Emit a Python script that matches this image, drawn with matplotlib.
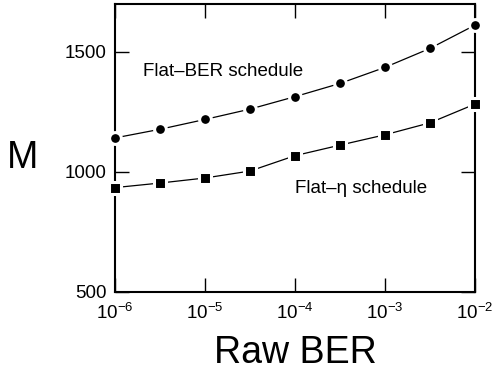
import matplotlib
matplotlib.use("Agg")
import matplotlib.pyplot as plt
import numpy as np

# data
ber = [1e-6, 10**-5.5, 1e-5, 10**-4.5, 1e-4, 10**-3.5, 1e-3, 10**-2.5, 1e-2]
m_flat_ber = [1142, 1178, 1219, 1262, 1314, 1369, 1436, 1515, 1612]
m_flat_eta = [935, 954, 975, 1004, 1068, 1112, 1155, 1205, 1283]

plt.rcParams['font.family'] = ['Liberation Sans', 'DejaVu Sans']
plt.rcParams['mathtext.fontset'] = 'custom'
plt.rcParams['mathtext.rm'] = 'Liberation Sans'

fig = plt.figure(figsize=(4.96, 3.74), dpi=100)
ax = fig.add_axes([115/496, 1 - 292/374, 360/496, 288/374])

ax.plot(ber, m_flat_ber, 'k-', lw=0.9, marker='o', ms=8.5,
        mfc='k', mec='white', mew=2.2, clip_on=False, zorder=3)
ax.plot(ber, m_flat_eta, 'k-', lw=0.9, marker='s', ms=8.0,
        mfc='k', mec='white', mew=2.2, clip_on=False, zorder=3)

ax.set_xscale('log')
ax.set_xlim(1e-6, 1e-2)
ax.set_ylim(500, 1700)
ax.set_xticks([1e-6, 1e-5, 1e-4, 1e-3, 1e-2])
ax.xaxis.set_minor_locator(matplotlib.ticker.NullLocator())
ax.set_yticks([500, 1000, 1500])

ax.tick_params(direction='in', length=10, width=1, top=True, right=True,
               labelsize=13.5, colors='k')
ax.tick_params(axis='x', pad=8)
ax.tick_params(axis='y', pad=6)
for s in ax.spines.values():
    s.set_linewidth(1.5)

ax.text(2.05e-6, 1418, 'Flat\u2013BER schedule', fontsize=13.5, va='center')
ax.text(1e-4, 933, 'Flat\u2013\u03b7 schedule', fontsize=13.5,
        va='center', ha='left')

ax.set_xlabel('Raw BER', fontsize=27, va='baseline')
ax.xaxis.set_label_coords(0.5, -0.2465)
ax.set_ylabel('M', fontsize=27, rotation=0, va='baseline', ha='center')
ax.yaxis.set_label_coords(-0.258, 0.4306)

fig.savefig('out.png', dpi=100)
